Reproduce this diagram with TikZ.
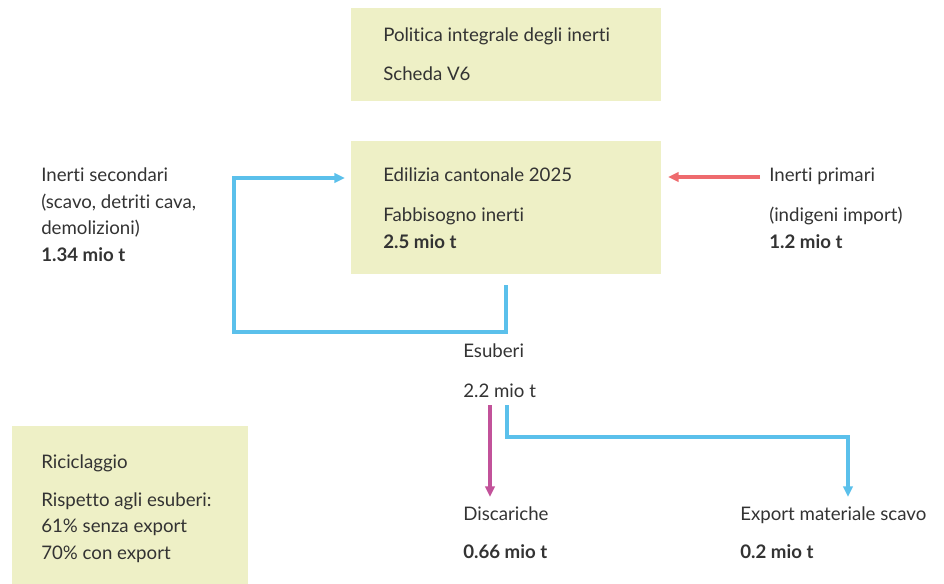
\documentclass[tikz,border=0pt]{standalone}
\usepackage{fontspec}
\setmainfont{Lato}[Ligatures={NoCommon}]
\usetikzlibrary{arrows.meta,positioning,calc}
\definecolor{Ink}{HTML}{333333}
\definecolor{Pale}{HTML}{EEF0C6}
\definecolor{Sky}{HTML}{5BC0EB}
\definecolor{Coral}{HTML}{EE6B6E}
\definecolor{Plum}{HTML}{C2529A}
\tikzset{
  >={Triangle[length=8pt,width=7pt]},
  panel/.style={fill=Pale,draw=none},
  txt/.style={anchor=base west,inner sep=0pt,text=Ink,font=\fontsize{14}{16}\selectfont},
  num/.style={txt,font=\fontsize{14}{16}\selectfont\bfseries},
  flow/.style={->,line width=2.4pt,draw=Sky},
  inflow/.style={flow,draw=Coral},
  dumpflow/.style={flow,draw=Plum}
}
\begin{document}
\begin{tikzpicture}[x=0.75pt,y=-0.75pt]
  \useasboundingbox (0,0) rectangle (944,584);

  % boxes
  \fill[panel] (351,8) rectangle (661,101);
  \fill[panel] (351,141) rectangle (661,274);
  \fill[panel] (12,426) rectangle (248,584);

  % top box
  \node[txt] (pol) at (383,42) {Politica integrale degli inerti};
  \node[txt] (sch) at (383,81) {Scheda V6};

  % main box
  \node[txt] (edi) at (383,182) {Edilizia cantonale 2025};
  \node[txt] (fab) at (383,222) {Fabbisogno inerti};
  \node[num] (fabv) at (383,248) {2.5 mio t};

  % left
  \node[txt] (sec) at (41,182) {Inerti secondari};
  \node[txt] (sec2) at (41,209) {(scavo, detriti cava,};
  \node[txt] (sec3) at (41,235) {demolizioni)};
  \node[num] (secv) at (41,262) {1.34 mio t};

  % right
  \node[txt] (pri) at (769,182) {Inerti primari};
  \node[txt] (pri2) at (769,222) {(indigeni import)};
  \node[num] (priv) at (769,248) {1.2 mio t};

  % esuberi
  \node[txt] (esu) at (463,357) {Esuberi};
  \node[txt] (esuv) at (463,397) {2.2 mio t};

  % outlets
  \node[txt] (dis) at (463,520) {Discariche};
  \node[num] (disv) at (463,558) {0.66 mio t};
  \node[txt] (exp) at (740,520) {Export materiale scavo};
  \node[num] (expv) at (740,558) {0.2 mio t};

  % riciclaggio
  \node[txt] (ric) at (41,468) {Riciclaggio};
  \node[txt] (ric2) at (41,506) {Rispetto agli esuberi:};
  \node[txt] (ric3) at (41,532) {61\% senza export};
  \node[txt] (ric4) at (41,559) {70\% con export};

  % connector ends
  \coordinate (loopA) at (506,285);
  \coordinate (loopB) at (345,178);
  \coordinate (priA) at (760,177);
  \coordinate (priB) at (668,177);
  \coordinate (disA) at (490,405);
  \coordinate (disB) at (490,497);
  \coordinate (expA) at (507,405);
  \coordinate (expB) at (848,497);

  \draw[flow] (loopA) |- (234,332) |- (loopB);
  \draw[inflow] (priA) -- (priB);
  \draw[dumpflow] (disA) -- (disB);
  \draw[flow] (expA) |- (848,437) -- (expB);
\end{tikzpicture}
\end{document}
